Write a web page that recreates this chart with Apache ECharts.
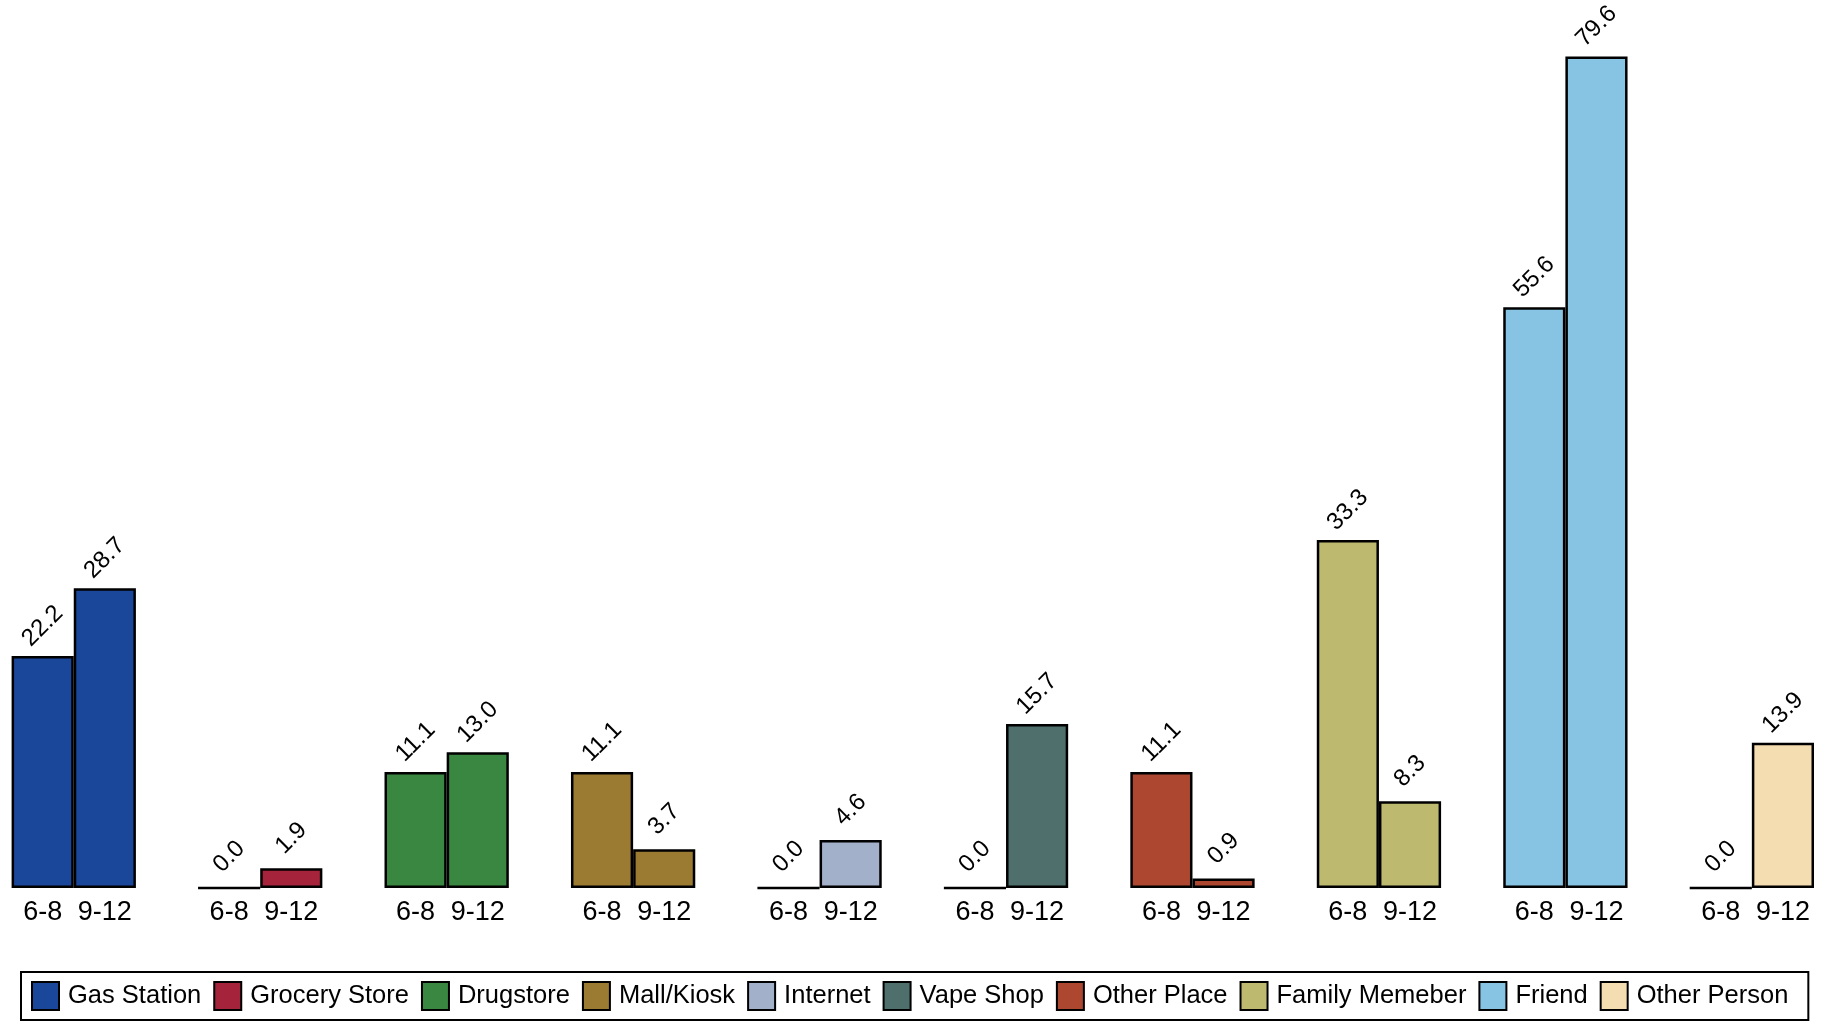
<!DOCTYPE html>
<html>
<head>
<meta charset="utf-8">
<script src="https://cdn.jsdelivr.net/npm/echarts@6/dist/echarts.min.js"></script>
<style>
    html, body {margin: 0; padding: 0; background: #fff;}
    #main {width: 1822px; height: 1021px;}
</style>
</head>
<body>
<div id="main"></div>
<script>
// sources (one colour each), two grade groups per source
var places = ['Gas Station', 'Grocery Store', 'Drugstore', 'Mall/Kiosk', 'Internet',
    'Vape Shop', 'Other Place', 'Family Memeber', 'Friend', 'Other Person'];
var grades = ['6-8', '9-12'];
var middleSchool = [22.2, 0.0, 11.1, 11.1, 0.0, 0.0, 11.1, 33.3, 55.6, 0.0];
var highSchool = [28.7, 1.9, 13.0, 3.7, 4.6, 15.7, 0.9, 8.3, 79.6, 13.9];
var colors = ['#1b479b', '#a5243b', '#398741', '#9b7a32', '#a2b0c9',
    '#4f6f6d', '#ad4730', '#bdba70', '#87c4e3', '#f5ddb2'];

var main = document.getElementById('main');
var myChart = echarts.init(main);

// each source takes 2 slots, then one empty slot as the gap
var slots = [];
places.forEach(function (p, i) {
    slots.push(grades[0], grades[1]);
    if (i < places.length - 1) slots.push('');
});

var series = places.map(function (name, i) {
    var data = slots.map(function () { return '-'; });
    data[i * 3] = middleSchool[i];
    data[i * 3 + 1] = highSchool[i];
    return {
        name: name,
        type: 'bar',
        barWidth: '100%',
        barGap: '-100%',
        itemStyle: {
            color: colors[i],
            borderColor: '#000',
            borderWidth: 2.5
        },
        label: {
            show: true,
            position: 'top',
            distance: 30,
            rotate: 45,
            align: 'center',
            verticalAlign: 'middle',
            fontSize: 24,
            fontFamily: 'Liberation Sans, Arial',
            color: '#000',
            formatter: function (p) { return Number(p.value).toFixed(1); }
        },
        data: data
    };
});

var option = {
    animation: false,
    backgroundColor: '#fff',
    grid: {left: 11.6, right: 8, top: 0, bottom: 133},
    legend: {
        data: places,
        icon: 'rect',
        left: 21,
        right: 0,
        bottom: 1,
        padding: [9, 20, 9, 10],
        borderColor: '#000',
        borderWidth: 2,
        itemWidth: 27,
        itemHeight: 28,
        itemGap: 12,
        textStyle: {
            fontSize: 25.5,
            fontFamily: 'Liberation Sans, Arial',
            color: '#000',
            padding: [0, 0, 0, 4]
        }
    },
    xAxis: {
        type: 'category',
        data: slots,
        axisLine: {show: false},
        axisTick: {show: false},
        axisLabel: {
            interval: 0,
            margin: 11,
            fontSize: 27,
            fontFamily: 'Liberation Sans, Arial',
            color: '#000'
        }
    },
    yAxis: {
        type: 'value',
        min: 0,
        max: 85,
        show: false
    },
    series: series
};

myChart.setOption(option);
window.onresize = function () {
    myChart.resize();
};
</script>
</body>
</html>
